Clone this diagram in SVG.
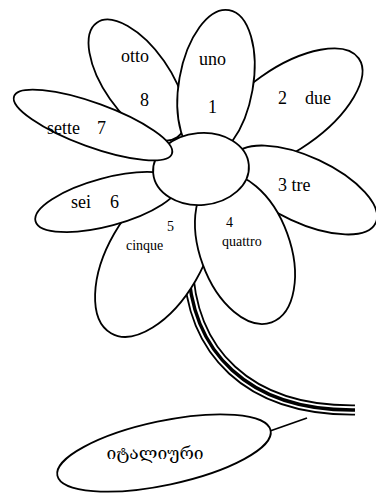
<svg xmlns="http://www.w3.org/2000/svg" width="376" height="495" viewBox="0 0 376 495">
  <style>
    .shape { fill: #fff; stroke: #000; stroke-width: 1.8; }
    .lbl { font-family: "Liberation Serif", "Times New Roman", serif; font-size: 18px; fill: #000; }
    .sm { font-size: 14px; }
    .geo { font-family: "DejaVu Serif", "DejaVu Sans", serif; font-size: 17.5px; fill: #000; }
    .stem { fill: none; stroke-linecap: butt; }
  </style>
  <rect width="376" height="495" fill="#fff"/>

  <!-- stem: black band with two white grooves -->
  <g id="stem">
    <path class="stem" d="M188,262 C190,352 248,411 355,410" stroke="#000" stroke-width="11"/>
    <path class="stem" d="M188,262 C190,352 248,411 355,410" stroke="#fff" stroke-width="7.4"/>
    <path class="stem" d="M188,262 C190,352 248,411 355,410" stroke="#000" stroke-width="3.4"/>
  </g>

  <!-- petals, back to front -->
  <g id="petal-due">
    <ellipse class="shape" cx="285" cy="110" rx="90" ry="41" transform="rotate(-35 285 110)"/>
    <text class="lbl" x="278" y="104">2</text>
    <text class="lbl" x="305" y="104">due</text>
  </g>
  <g id="petal-otto">
    <ellipse class="shape" cx="137" cy="80" rx="33" ry="70" transform="rotate(-35 137 80)"/>
    <text class="lbl" x="121" y="62">otto</text>
    <text class="lbl" x="140" y="106">8</text>
  </g>
  <g id="petal-uno">
    <ellipse class="shape" cx="216" cy="84" rx="37" ry="75" transform="rotate(10 216 84)"/>
    <text class="lbl" x="199" y="65">uno</text>
    <text class="lbl" x="208" y="113">1</text>
  </g>
  <g id="petal-tre">
    <ellipse class="shape" cx="305" cy="190" rx="78" ry="33" transform="rotate(25 305 190)"/>
    <text class="lbl" x="278" y="191">3 tre</text>
  </g>
  <g id="petal-cinque">
    <ellipse class="shape" cx="155" cy="257" rx="47" ry="88" transform="rotate(30 155 257)"/>
    <text class="lbl sm" x="167" y="231">5</text>
    <text class="lbl sm" x="126" y="250">cinque</text>
  </g>
  <g id="petal-sei">
    <ellipse class="shape" cx="107" cy="202" rx="74" ry="24" transform="rotate(-15 107 202)"/>
    <text class="lbl" x="71" y="208">sei</text>
    <text class="lbl" x="110" y="208">6</text>
  </g>
  <g id="petal-quattro">
    <ellipse class="shape" cx="245" cy="249" rx="45" ry="78" transform="rotate(-20 245 249)"/>
    <text class="lbl sm" x="226" y="227">4</text>
    <text class="lbl sm" x="222" y="246">quattro</text>
  </g>
  <g id="center">
    <ellipse class="shape" cx="201" cy="169" rx="48" ry="36" transform="rotate(-5 201 169)"/>
  </g>
  <g id="petal-sette">
    <ellipse class="shape" cx="93" cy="125" rx="84" ry="22" transform="rotate(20 93 125)"/>
    <text class="lbl" x="47" y="134">sette</text>
    <text class="lbl" x="97" y="134">7</text>
  </g>

  <!-- language label -->
  <g id="label">
    <ellipse class="shape" cx="164" cy="453" rx="109" ry="32" transform="rotate(-12 164 453)"/>
    <text class="geo" x="155" y="459" text-anchor="middle">იტალიური</text>
  </g>

  <g id="connectors">
    <line x1="270" y1="431" x2="307" y2="418" stroke="#000" stroke-width="1.8"/>
  </g>
</svg>
